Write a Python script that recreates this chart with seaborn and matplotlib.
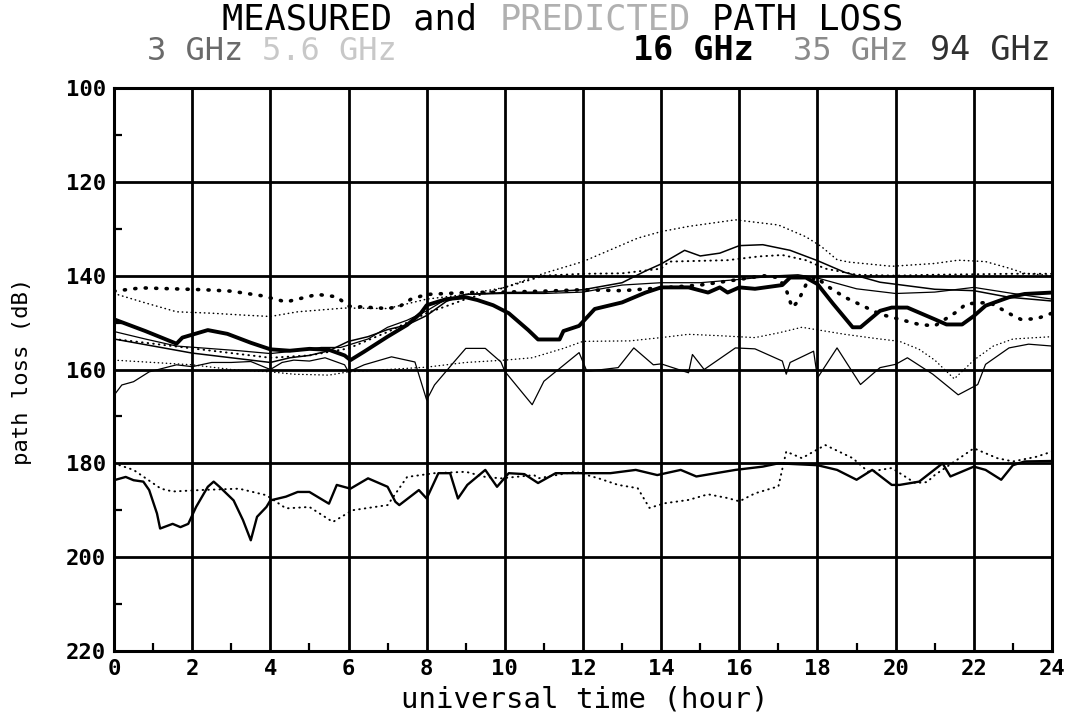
import numpy as np
import pandas as pd
import matplotlib
matplotlib.use("Agg")
import matplotlib.pyplot as plt
import seaborn as sns
from matplotlib.ticker import MultipleLocator

# ---------------- data: hour of day (UT) and path loss (dB) ----------------
# measured, 16 GHz
m16_h = [0, 0.8, 1.6, 1.75, 2.4, 2.9, 3.5, 4, 4.5, 5, 5.5, 5.9, 6.05, 6.4, 7, 7.5, 7.85, 8, 8.5, 9,
         9.3, 9.7, 10.1, 10.6, 10.85, 11.4, 11.5, 11.9, 12.3, 13, 13.6, 14, 14.7, 15.2, 15.5, 15.7,
         16, 16.4, 17.1, 17.3, 17.7, 18, 18.4, 18.9, 19.1, 19.6, 19.9, 20.3, 21, 21.3, 21.7, 22,
         22.3, 22.9, 23.3, 24]
m16_db = [149.3, 151.8, 154.5, 153.2, 151.6, 152.4, 154.3, 155.7, 156, 155.6, 155.8, 157, 158, 156.2,
          153, 150.5, 148, 146.3, 145, 144.6, 145.2, 146.3, 148, 151.6, 153.6, 153.6, 151.8, 150.7,
          147.1, 145.7, 143.6, 142.5, 142.5, 143.6, 142.5, 143.6, 142.5, 142.8, 142, 140.4, 140.4,
          141.8, 146, 151, 151, 147.5, 146.8, 146.8, 149.3, 150.4, 150.4, 148.6, 146.4, 144.6,
          143.9, 143.6]

# predicted, 16 GHz
p16_h = [0, 0.7, 1.5, 2.3, 3, 3.8, 4.4, 4.8, 5.2, 5.7, 6, 7, 7.3, 7.6, 8, 9, 10, 11, 12, 13, 14, 15,
         16, 16.6, 17, 17.2, 17.35, 17.5, 17.7, 17.95, 18.3, 18.7, 19.6, 20.6, 21, 21.6, 21.8, 22.4,
         23, 23.2, 23.6, 24]
p16_db = [143.3, 142.6, 142.8, 143, 143.3, 144.3, 145.6, 144.8, 144, 144.5, 146.5, 147, 146.6, 145,
          144, 143.6, 143.5, 143.3, 143, 143.2, 142.6, 142, 140.8, 140, 140.4, 143, 146.8, 145.5,
          142, 140.3, 142.5, 144.6, 148.2, 150.4, 150.7, 147.5, 146, 145.7, 148.5, 149.3, 149.2, 148]

# measured, 3 GHz
m3_h = [0, 1, 2, 3, 4, 4.5, 5, 5.5, 6, 6.5, 7, 7.5, 8, 8.5, 9, 10, 11, 12, 13, 13.6, 14, 14.6, 15,
        15.5, 16, 16.6, 17.3, 18, 18.7, 19.6, 21, 22, 22.9, 24]
m3_db = [153.5, 155, 156.5, 157.5, 158.5, 157.5, 157, 156, 154, 153, 151.5, 150.5, 148.5, 145.5, 144,
         143.6, 143.5, 143, 141.5, 139, 137.5, 134.6, 135.8, 135.2, 133.6, 133.4, 134.6, 136.8,
         139.3, 141.4, 142.9, 143.2, 144.6, 145.4]

# predicted, 3 GHz
p3_h = [0, 0.8, 1.6, 2.5, 3.3, 4, 4.7, 5.9, 7, 8, 9, 10, 11, 12, 13.4, 14, 14.7, 15.9, 17, 17.7,
        18.1, 18.5, 18.8, 19.9, 21, 21.6, 22.3, 22.9, 23.3, 24]
p3_db = [143.8, 145.8, 147.7, 148, 148.4, 148.7, 147.7, 146.9, 147, 145, 144, 142.5, 139.5, 137,
         132, 130.6, 129.5, 128.1, 129.2, 131.7, 133.8, 136.6, 137.1, 138, 137.4, 136.7, 137,
         138.4, 139.5, 140]

# measured, 5.6 GHz
m56_h = [0, 0.8, 1.6, 2.4, 3.2, 4, 4.7, 5.3, 5.8, 6.5, 7, 7.5, 8, 8.5, 9, 10, 11, 12, 13, 14, 15,
         16, 17, 17.5, 18, 19, 20, 21, 22, 23, 24]
m56_db = [151.9, 153.5, 155, 155.5, 156, 156.6, 156, 155.3, 155.3, 153.5, 151, 149.5, 147.5, 145,
          144, 143.8, 143.8, 143.5, 142, 141.5, 141.5, 140.8, 140, 139.8, 140.5, 142.8, 143.8,
          143.5, 142.5, 143.8, 145]

# predicted, 5.6 GHz
p56_h = [0, 1, 2, 3, 4, 5, 6, 7, 8, 9, 10, 11, 12, 13, 14, 14.2, 15.7, 16.5, 17.1, 17.7, 18.2, 19,
         20, 21, 22, 23, 24]
p56_db = [153.5, 154.5, 155.5, 156.5, 157.5, 157, 155.5, 152, 148, 145, 142.5, 140, 139.6, 139.5,
          138.5, 137, 136.7, 135.9, 135.6, 136.7, 138.5, 139.8, 140, 139.8, 139.7, 139.6, 139.6]

# measured, 35 GHz
m35_h = [0, 0.2, 0.5, 0.9, 1.6, 2, 2.5, 3, 3.5, 4, 4.3, 4.6, 5, 5.4, 5.9, 6, 6.4, 7.1, 7.7, 8, 8.2,
         8.7, 9, 9.5, 9.9, 10, 10.7, 11, 11.9, 12.1, 12.9, 13.3, 13.8, 14, 14.7, 14.8, 15.1, 15.9,
         16.4, 17.1, 17.2, 17.3, 17.9, 18, 18.5, 19.1, 19.6, 20, 20.3, 20.95, 21.6, 22.1, 22.3,
         22.9, 23.4, 24]
m35_db = [165.5, 163.3, 162.6, 160.5, 159, 159.4, 158.5, 158.5, 158.3, 160, 158.5, 158, 158.2, 157.5,
          159, 160.5, 159, 157.3, 158.4, 166.5, 163.3, 158.4, 155.5, 155.5, 158.4, 160.4, 167.5,
          162.5, 156.4, 160.4, 159.6, 155.4, 159, 158.8, 160.7, 156.8, 160, 155.4, 155.6, 158.2,
          161, 158.5, 156.1, 161.8, 155.4, 163.2, 159.6, 158.9, 157.5, 161, 165.4, 163.2, 158.9,
          155.4, 154.6, 155]

# predicted, 35 GHz
p35_h = [0, 1, 2, 3, 4, 4.6, 5.5, 6, 7, 8, 9, 10, 10.7, 11.5, 12, 13.2, 14, 14.7, 15.5, 16.4, 17,
         17.6, 18.7, 19.5, 20.1, 20.6, 21, 21.5, 22, 22.5, 23, 24]
p35_db = [158, 158.5, 159, 160, 160.5, 161, 161.2, 160.5, 160, 159.5, 158.5, 158, 157.5, 155.5, 154,
          153.9, 153.2, 152.5, 152.8, 153.2, 152.2, 151, 152.5, 153.4, 154, 155.7, 158, 162, 158,
          155, 153.5, 153]

# measured, 94 GHz
m94_h = [0, 0.3, 0.5, 0.75, 0.9, 1.1, 1.18, 1.5, 1.7, 1.9, 2.1, 2.4, 2.55, 2.7, 3.06, 3.3, 3.5,
         3.66, 3.9, 4, 4.4, 4.7, 5, 5.5, 5.7, 6.05, 6.5, 7, 7.2, 7.3, 7.8, 8, 8.3, 8.6, 8.8, 9.04,
         9.5, 9.8, 10.1, 10.5, 10.85, 11.3, 11.96, 12.7, 13.35, 13.9, 14.5, 14.9, 15.4, 15.9, 16.6,
         17, 18, 18.5, 19, 19.4, 19.9, 20.1, 20.6, 21.2, 21.4, 22, 22.3, 22.7, 23, 23.3, 24]
m94_db = [183.6, 182.9, 183.6, 183.9, 185.7, 190.7, 193.9, 192.9, 193.6, 192.9, 189.3, 185, 183.9,
          185, 187.9, 192.1, 196.4, 191.4, 189.3, 187.9, 187.1, 186.1, 186.1, 188.6, 184.6, 185.4,
          183.2, 185, 188.2, 188.9, 185.7, 187.5, 182.1, 182.1, 187.5, 184.6, 181.4, 185, 182.1,
          182.3, 184.2, 182.1, 182.1, 182.1, 181.4, 182.5, 181.4, 182.8, 182.1, 181.4, 180.7, 180,
          180.4, 181.4, 183.5, 181.4, 184.6, 184.6, 183.9, 180, 182.8, 180.7, 181.4, 183.5, 180.4,
          179.6, 179.5]

# predicted, 94 GHz
p94_h = [0, 0.5, 1.2, 1.5, 2.2, 3.2, 3.9, 4.4, 5, 5.6, 6.1, 7, 7.5, 8.2, 9, 9.5, 9.9, 10.75, 10.85,
         11.8, 12.4, 12.9, 13.4, 13.7, 14.1, 14.7, 15.2, 15.7, 16, 16.4, 17, 17.2, 17.6, 18.2, 18.3,
         18.9, 19.3, 19.9, 20.5, 20.8, 21, 22, 22.6, 23, 23.6, 24]
p94_db = [180, 181.4, 185.4, 186, 185.7, 185.4, 186.8, 189.6, 189.3, 192.5, 190, 188.9, 182.9,
          182.1, 181.8, 182.9, 183.2, 182.5, 183.2, 181.8, 183.2, 184.6, 185.3, 189.5, 188.5, 187.8,
          186.6, 187.4, 188.1, 186.4, 184.9, 177.5, 178.9, 176.1, 176.5, 178.9, 181.8, 181, 184.2,
          184, 182.5, 176.8, 178.9, 179.6, 178.6, 177.5]

x_ticks = list(range(0, 25, 2))
y_ticks = list(range(100, 221, 20))

# ---------------- long-form table ----------------
series = {
    "3 GHz measured": (m3_h, m3_db),
    "5.6 GHz measured": (m56_h, m56_db),
    "16 GHz measured": (m16_h, m16_db),
    "35 GHz measured": (m35_h, m35_db),
    "94 GHz measured": (m94_h, m94_db),
    "3 GHz predicted": (p3_h, p3_db),
    "5.6 GHz predicted": (p56_h, p56_db),
    "16 GHz predicted": (p16_h, p16_db),
    "35 GHz predicted": (p35_h, p35_db),
    "94 GHz predicted": (p94_h, p94_db),
}
frames = [pd.DataFrame({"hour": h, "loss": v, "series": name}) for name, (h, v) in series.items()]
df = pd.concat(frames, ignore_index=True)

widths = {
    "3 GHz measured": 1.1, "5.6 GHz measured": 0.9, "16 GHz measured": 2.8,
    "35 GHz measured": 0.9, "94 GHz measured": 1.7,
    "3 GHz predicted": 1.1, "5.6 GHz predicted": 1.4, "16 GHz predicted": 2.6,
    "35 GHz predicted": 1.0, "94 GHz predicted": 1.4,
}
dash_styles = {name: ("" if name.endswith("measured") else (0.3, 2.6)) for name in series}
palette = {name: "black" for name in series}

# ---------------- figure ----------------
sns.set_theme(style="white")
plt.rcParams["font.family"] = ["DejaVu Sans Mono", "DejaVu Sans"]

W, H = 1070, 723
fig = plt.figure(figsize=(W / 100, H / 100), dpi=100)
ax = fig.add_axes([114 / W, 1 - 651 / H, (1052 - 114) / W, (651 - 88) / H])

sns.lineplot(data=df, x="hour", y="loss", hue="series", style="series", size="series",
             palette=palette, dashes=dash_styles, sizes=widths, legend=False,
             estimator=None, sort=False, ax=ax, dash_capstyle="round")

ax.set_xlim(0, 24)
ax.set_ylim(220, 100)
ax.set_xticks(x_ticks)
ax.set_yticks(y_ticks)
ax.xaxis.set_minor_locator(MultipleLocator(1))
ax.yaxis.set_minor_locator(MultipleLocator(10))
ax.grid(True, which="major", color="black", linewidth=2.0)
ax.tick_params(which="major", length=0, labelsize=16, pad=6, colors="black")
ax.tick_params(which="minor", direction="in", length=6, width=1.6, color="black",
               bottom=True, left=True)
for lab in ax.get_xticklabels() + ax.get_yticklabels():
    lab.set_fontweight("bold")
for s in ax.spines.values():
    s.set_color("black")
    s.set_linewidth(2.2)

ax.set_xlabel("universal time (hour)", fontsize=21, color="black", va="center")
ax.xaxis.set_label_coords(0.502, -0.087)
ax.set_ylabel("path loss (dB)", fontsize=16, color="black", va="center")
ax.yaxis.set_label_coords(-0.098, 0.496)

# ---------------- title and frequency key ----------------
# monospaced glyphs: advance of 0.602 em lets the words be laid out by column
title_fs = 25.5
adv = 0.602 * title_fs * 100 / 72
title_x0 = 222
title_y = 1 - 20 / H
fig.text(title_x0 / W, title_y, "MEASURED and", ha="left", va="center",
         fontsize=title_fs, color="black")
fig.text((title_x0 + 13 * adv) / W, title_y, "PREDICTED", ha="left", va="center",
         fontsize=title_fs, color="#b0b0b0")
fig.text((title_x0 + 23 * adv) / W, title_y, "PATH LOSS", ha="left", va="center",
         fontsize=title_fs, color="black")

key_y = 1 - 51 / H
fig.text(147 / W, key_y, "3 GHz", ha="left", va="center", fontsize=23, color="#6a6a6a")
fig.text(262 / W, key_y, "5.6 GHz", ha="left", va="center", fontsize=23, color="#c8c8c8")
fig.text(633 / W, key_y, "16 GHz", ha="left", va="center", fontsize=24, color="black",
         fontweight="bold")
fig.text(793 / W, key_y, "35 GHz", ha="left", va="center", fontsize=23, color="#8a8a8a")
fig.text(930 / W, key_y, "94 GHz", ha="left", va="center", fontsize=24, color="#303030")

fig.savefig("out.png", dpi=100, facecolor="white")
